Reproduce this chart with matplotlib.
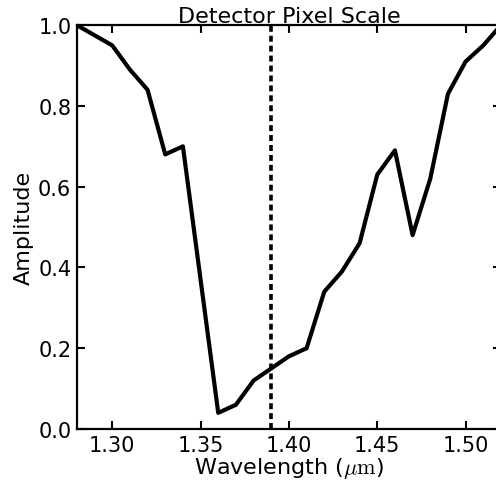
import numpy as np
import matplotlib
matplotlib.use("Agg")
import matplotlib.pyplot as plt

plt.rcParams['font.size'] = 15
plt.rcParams['mathtext.fontset'] = 'cm'
plt.rcParams['axes.linewidth'] = 1.6

wavelength = [1.28, 1.29, 1.30, 1.31, 1.32, 1.33, 1.34, 1.35, 1.36, 1.37, 1.38, 1.39,
              1.40, 1.41, 1.42, 1.43, 1.44, 1.45, 1.46, 1.47, 1.48, 1.49, 1.50, 1.51, 1.52]
amplitude = [1.00, 0.975, 0.95, 0.89, 0.84, 0.68, 0.70, 0.37, 0.04, 0.06, 0.12, 0.15,
             0.18, 0.20, 0.34, 0.39, 0.46, 0.63, 0.69, 0.48, 0.62, 0.83, 0.91, 0.95, 1.00]
pixel_scale = 1.39

fig = plt.figure(figsize=(4.96, 4.85), dpi=100)
ax = fig.add_axes([0.155, 0.1134, 0.855, 0.8326])
ax.plot(wavelength, amplitude, color='black', lw=3)
ax.axvline(pixel_scale, color='black', lw=2.6, dashes=(1.65, 1.1))

ax.set_xlim(1.28, 1.52)
ax.set_ylim(0, 1)
ax.set_xticks([1.30, 1.35, 1.40, 1.45, 1.50])
ax.set_yticks([0.0, 0.2, 0.4, 0.6, 0.8, 1.0])
ax.xaxis.set_major_formatter(matplotlib.ticker.FormatStrFormatter('%.2f'))
ax.yaxis.set_major_formatter(matplotlib.ticker.FormatStrFormatter('%.1f'))
ax.tick_params(direction='in', length=6, width=1.5, top=True, right=True, pad=4)

ax.set_xlabel(r"Wavelength ($\mu\mathrm{m}$)", fontsize=16, labelpad=0)
ax.set_ylabel("Amplitude", fontsize=16, labelpad=3)
ax.set_title("Detector Pixel Scale", fontsize=16, pad=2)

fig.savefig("out.png", dpi=100)
